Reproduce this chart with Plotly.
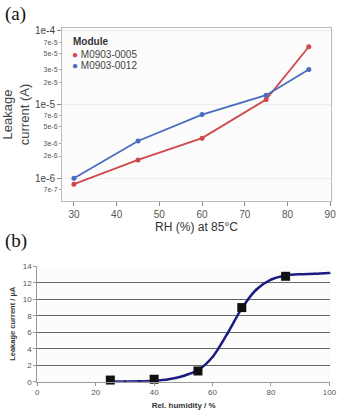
import plotly.graph_objects as go

# ---- Panel (a) data ----
rh_a = [30, 45, 60, 75, 85]
m0005 = [8.3e-7, 1.77e-6, 3.5e-6, 1.17e-5, 6.1e-5]
m0012 = [1.0e-6, 3.2e-6, 7.3e-6, 1.34e-5, 3.0e-5]
series_names = ["M0903-0005", "M0903-0012"]
major_vals = [1e-6, 1e-5, 1e-4]
major_text = ["1e-6", "1e-5", "1e-4"]
minor_vals = [7e-7, 2e-6, 3e-6, 5e-6, 7e-6, 2e-5, 3e-5, 5e-5, 7e-5]
minor_text = ["7e-7", "2e-6", "3e-6", "5e-6", "7e-6", "2e-5", "3e-5", "5e-5", "7e-5"]
xticks_a = [30, 40, 50, 60, 70, 80, 90]

# ---- Panel (b) data ----
rh_meas = [25, 40, 55, 70, 85]
i_meas = [0.2, 0.3, 1.3, 9.0, 12.8]
rh_fit = [25, 30, 35, 40, 45, 50, 55, 60, 65, 70, 75, 80, 85, 90, 95, 100]
i_fit = [0.02, 0.03, 0.05, 0.12, 0.3, 0.7, 1.4, 3.0, 5.8, 8.9, 11.2, 12.4, 12.9, 13.05, 13.1, 13.2]
yticks_b = [0, 2, 4, 6, 8, 10, 12, 14]
xticks_b = [0, 20, 40, 60, 80, 100]

W, H = 338, 410
def px(x): return x / W
def py(y): return 1 - y / H

RED = "#d0474c"
BLUE = "#4a6cc0"
NAVY = "#1b1b82"
colors = [RED, BLUE]

fig = go.Figure()

for name, vals, col in [(series_names[0], m0005, RED), (series_names[1], m0012, BLUE)]:
    fig.add_trace(go.Scatter(x=rh_a, y=vals, mode="lines+markers", name=name, showlegend=False,
                             line=dict(color=col, width=1.8), marker=dict(color=col, size=5),
                             xaxis="x", yaxis="y"))

fig.add_trace(go.Scatter(x=rh_fit, y=i_fit, mode="lines+markers", showlegend=False,
                         line=dict(color=NAVY, width=2.5, shape="spline", smoothing=0.8),
                         marker=dict(color=NAVY, size=3, symbol="triangle-up"),
                         xaxis="x2", yaxis="y2", cliponaxis=False))
fig.add_trace(go.Scatter(x=rh_meas, y=i_meas, mode="markers", showlegend=False,
                         marker=dict(color="#111111", size=9, symbol="square"),
                         xaxis="x2", yaxis="y2", cliponaxis=False))

yr = [-6.31, -3.96]
fig.update_layout(
    width=W, height=H, margin=dict(l=0, r=0, t=0, b=0, autoexpand=False),
    paper_bgcolor="white", plot_bgcolor="#fcfcfc", showlegend=False,
    font=dict(family="Liberation Sans, Arial, sans-serif", color="#444"),
    xaxis=dict(domain=[px(62), px(331)], range=[27.2, 90.2], tickvals=xticks_a,
               showgrid=False, zeroline=False, ticks="outside", ticklen=4,
               tickcolor="#888", tickfont=dict(size=10, color="#555"),
               ticklabeloverflow="allow", automargin=False,
               showline=True, linecolor="#bbb", mirror=True,
               title=dict(text="RH (%) at 85°C", font=dict(size=12, color="#333"), standoff=2),
               anchor="y"),
    yaxis=dict(domain=[py(201), py(28)], type="log", range=yr,
               tickvals=major_vals, ticktext=major_text,
               showgrid=True, gridcolor="#ececec", zeroline=False,
               ticks="outside", ticklen=4, tickcolor="#888",
               tickfont=dict(size=10, color="#444"), automargin=False,
               showline=True, linecolor="#bbb", mirror=True,
               title=dict(text="Leakage<br>current (A)", font=dict(size=13, color="#444"), standoff=4),
               anchor="x"),
    yaxis3=dict(domain=[py(201), py(28)], type="log", range=yr, overlaying="y",
                tickvals=minor_vals, ticktext=minor_text, showgrid=False,
                zeroline=False, ticks="outside", ticklen=2, tickcolor="#aaa",
                tickfont=dict(size=7, color="#555"), anchor="x", side="left",
                automargin=False),
    xaxis2=dict(domain=[px(37.3), px(330)], range=[0, 100.2], tickvals=xticks_b,
                showgrid=False, zeroline=False, ticks="outside", ticklen=3,
                tickcolor="#999", tickfont=dict(size=8, color="#555"),
                ticklabeloverflow="allow", automargin=False,
                showline=True, linecolor="#999",
                title=dict(text="<b>Rel. humidity / %</b>", font=dict(size=8, color="#333"), standoff=6),
                anchor="y2"),
    yaxis2=dict(domain=[py(381.7), py(266)], range=[0, 14.05], tickvals=yticks_b,
                showgrid=True, gridcolor="#666", gridwidth=1, zeroline=False,
                ticks="outside", ticklen=3, tickcolor="#999",
                tickfont=dict(size=8, color="#555"), automargin=False,
                showline=True, linecolor="#999",
                title=dict(text="<b>Leakage current / µA</b>", font=dict(size=7.5, color="#333"), standoff=6),
                anchor="x2"),
)
# dummy trace so yaxis3 is drawn
fig.add_trace(go.Scatter(x=[None], y=[None], xaxis="x", yaxis="y3", showlegend=False))

# legend drawn as text
fig.add_annotation(text="<b>Module</b>", x=px(71), y=py(42), xref="paper", yref="paper",
                   xanchor="left", yanchor="middle", showarrow=False,
                   font=dict(size=10, color="#333"))
for i, (name, col) in enumerate(zip(series_names, colors)):
    fig.add_annotation(text=f'<span style="color:{col}">●</span> {name}',
                       x=px(70), y=py(54 + 11 * i), xref="paper", yref="paper",
                       xanchor="left", yanchor="middle", showarrow=False,
                       font=dict(size=10, color="#444"))

fig.add_annotation(text="(a)", x=px(3), y=py(1), xref="paper", yref="paper",
                   xanchor="left", yanchor="top", showarrow=False,
                   font=dict(family="Liberation Serif, Times New Roman, serif", size=19, color="#111"))
fig.add_annotation(text="(b)", x=px(3), y=py(228), xref="paper", yref="paper",
                   xanchor="left", yanchor="top", showarrow=False,
                   font=dict(family="Liberation Serif, Times New Roman, serif", size=19, color="#111"))

fig.write_html("out.html")
